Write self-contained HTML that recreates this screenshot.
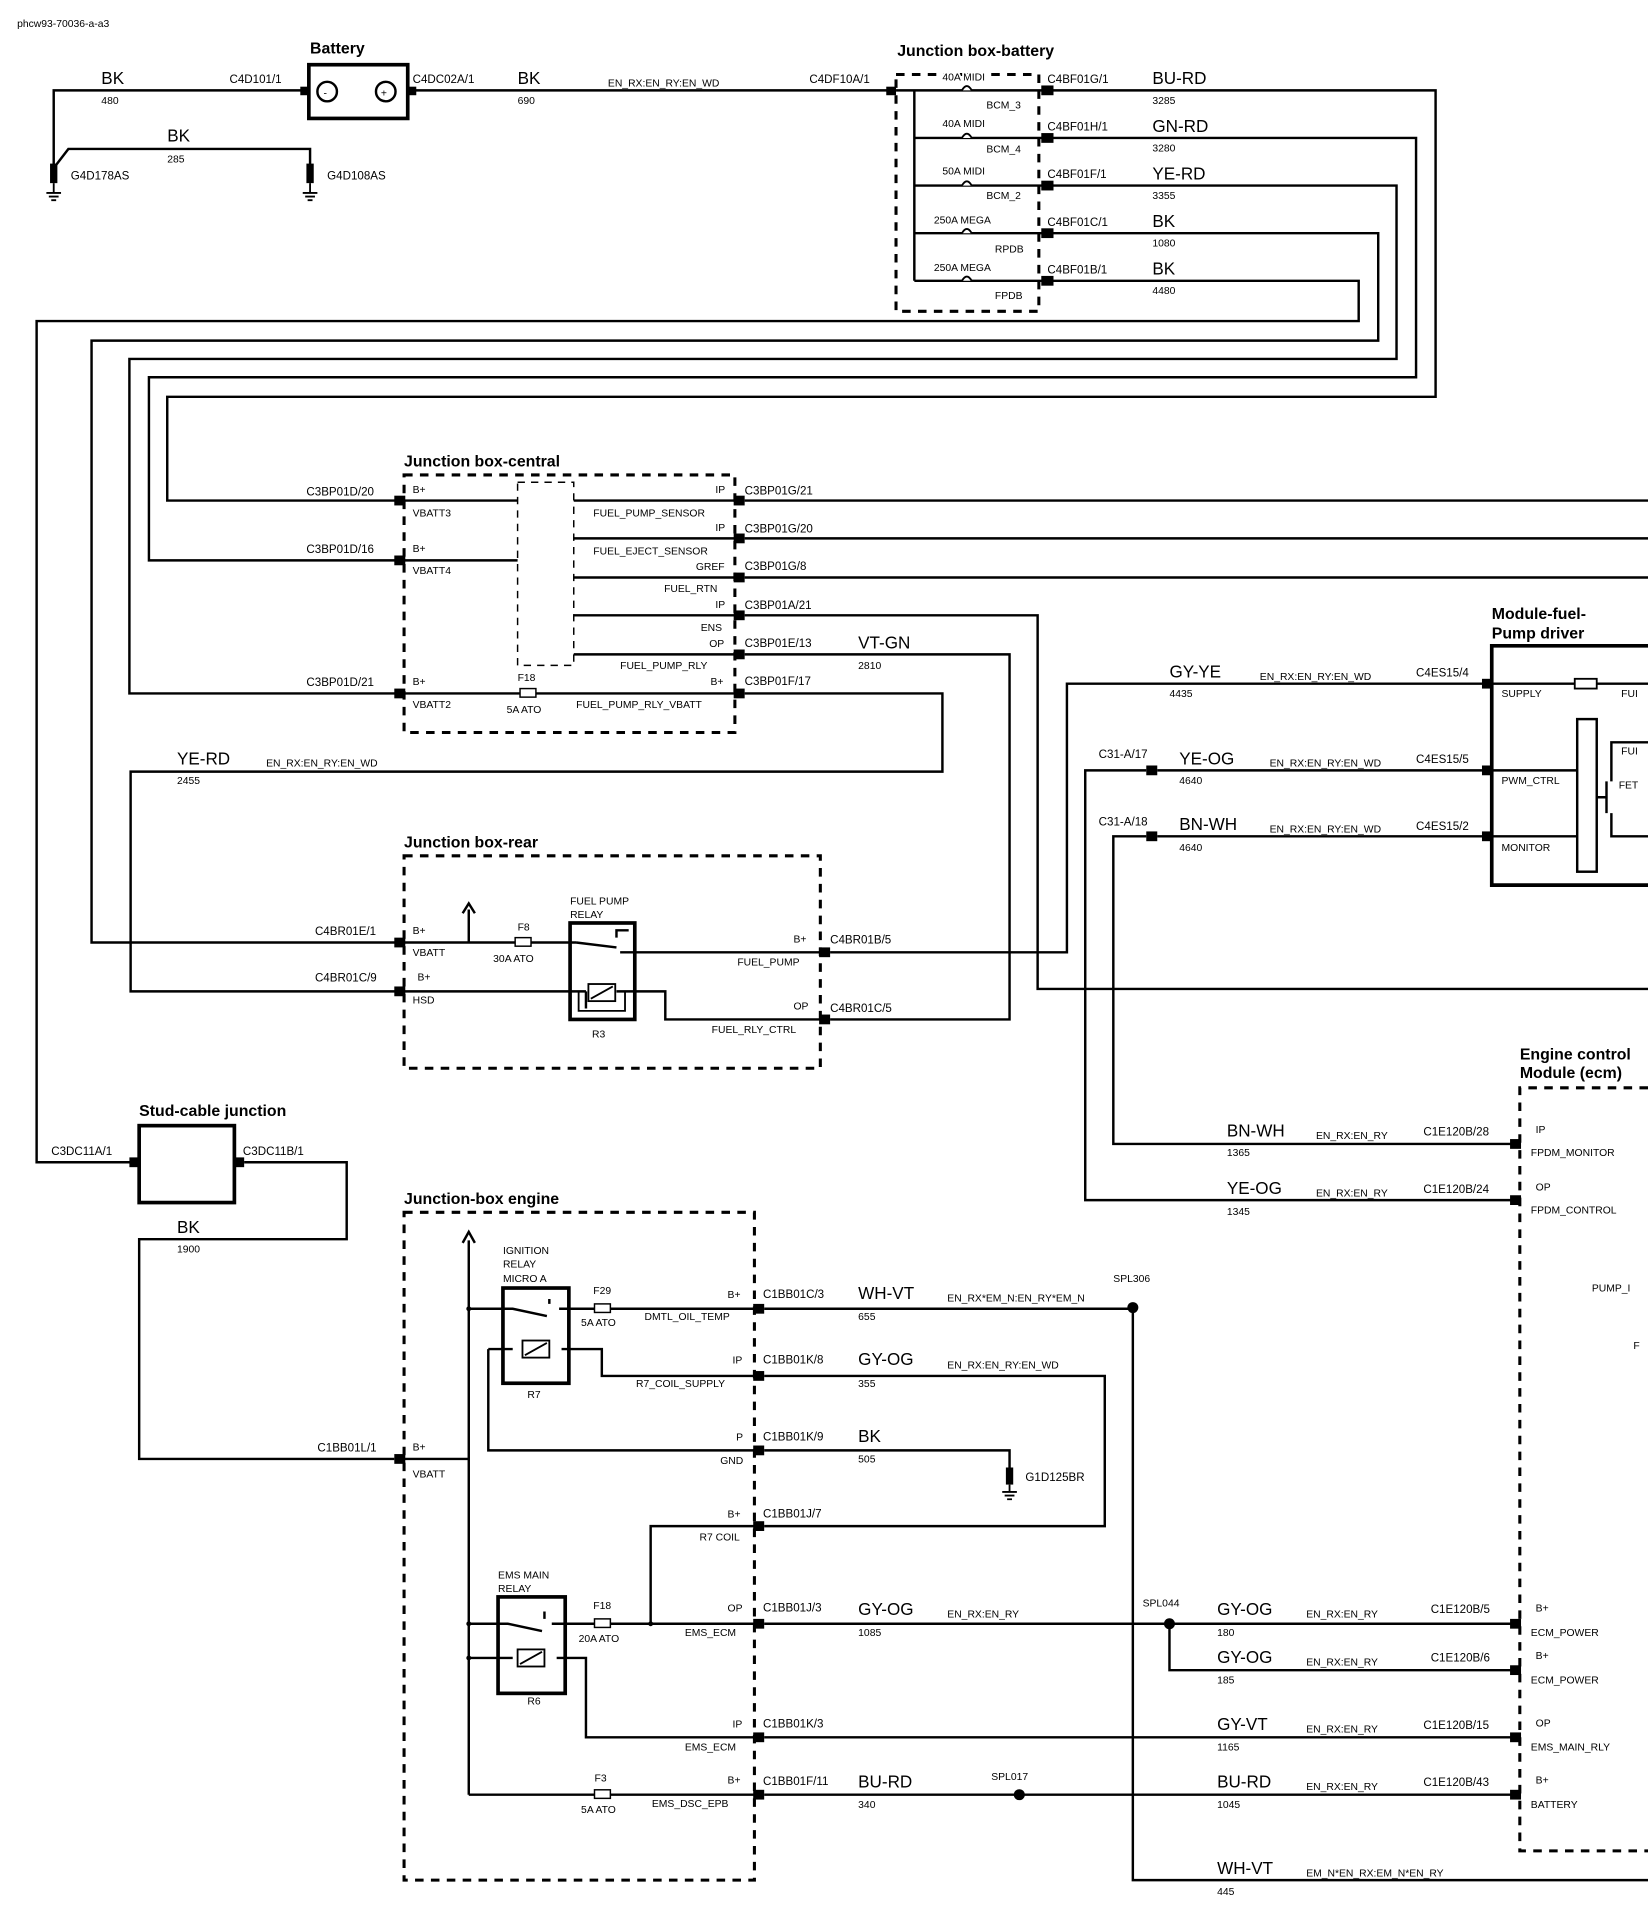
<!DOCTYPE html>
<html><head><meta charset="utf-8"><style>
html,body{margin:0;padding:0;background:#fff;}
svg{display:block;}
text{font-family:"Liberation Sans",sans-serif;fill:#000;}
.s{font-size:9.5px;}
.n{font-size:8.5px;}
.c{font-size:14px;}
.t{font-size:13px;font-weight:bold;}
.w{stroke:#000;stroke-width:2;fill:none;}
.d{stroke:#000;stroke-width:2.5;fill:none;stroke-dasharray:7,6;}
.b{stroke:#000;stroke-width:3;fill:none;}
.k{fill:#000;}
</style></head><body>
<svg width="1648" height="1918" viewBox="0 0 1350 1571" preserveAspectRatio="none" xmlns="http://www.w3.org/2000/svg">
<text x="14" y="22" class="n">phcw93-70036-a-a3</text>
<!-- Battery -->
<text x="254" y="44" class="t">Battery</text>
<rect x="253" y="53" width="81" height="44" class="b"/>
<circle cx="268" cy="75" r="8" class="w"/><text x="265" y="79" class="n">-</text>
<circle cx="316" cy="75" r="8" class="w"/><text x="312" y="79" class="n">+</text>
<path class="w" d="M44,140 V74 H253 M334,74 H730"/>
<rect x="246" y="71" width="7" height="7" class="k"/><rect x="334" y="71" width="7" height="7" class="k"/>
<text x="188" y="68" class="s">C4D101/1</text>
<text x="83" y="69" class="c">BK</text><text x="83" y="85" class="n">480</text>
<path class="w" d="M46,135 L56,122 H254 V138"/>
<text x="137" y="116" class="c">BK</text><text x="137" y="133" class="n">285</text>
<rect x="41" y="134" width="6" height="16" class="k"/><path class="w" d="M44,150 V158 M38,158 H50 M40,161 H48 M42,164 H46" style="stroke-width:1.5"/>
<rect x="251" y="134" width="6" height="16" class="k"/><path class="w" d="M254,150 V158 M248,158 H260 M250,161 H258 M252,164 H256" style="stroke-width:1.5"/>
<text x="58" y="147" class="s">G4D178AS</text><text x="268" y="147" class="s">G4D108AS</text>
<text x="338" y="68" class="s">C4DC02A/1</text>
<text x="424" y="69" class="c">BK</text><text x="424" y="85" class="n">690</text>
<text x="498" y="71" class="n">EN_RX:EN_RY:EN_WD</text>
<text x="663" y="68" class="s">C4DF10A/1</text>
<rect x="726" y="71" width="8" height="7" class="k"/>
<!-- JB battery -->
<text x="735" y="46" class="t">Junction box-battery</text>
<rect x="734" y="61" width="117" height="194" class="d"/>
<path class="w" d="M734,74 H856 M749,74 V230"/>
<g class="w">
<path d="M749,113 H856 M749,152 H856 M749,191 H856 M749,230 H856"/>
</g>
<g fill="#fff" stroke="#000" stroke-width="1.5">
<path d="M788,74 q4,-7 8,0"/><path d="M788,113 q4,-7 8,0"/><path d="M788,152 q4,-7 8,0"/><path d="M788,191 q4,-7 8,0"/><path d="M788,230 q4,-7 8,0"/>
</g>
<text x="772" y="66" class="n" style="paint-order:stroke;stroke:#fff;stroke-width:3">40A MIDI</text><text x="808" y="89" class="n">BCM_3</text>
<text x="772" y="104" class="n">40A MIDI</text><text x="808" y="125" class="n">BCM_4</text>
<text x="772" y="143" class="n">50A MIDI</text><text x="808" y="163" class="n">BCM_2</text>
<text x="765" y="183" class="n">250A MEGA</text><text x="815" y="207" class="n">RPDB</text>
<text x="765" y="222" class="n">250A MEGA</text><text x="815" y="245" class="n">FPDB</text>
<g class="k"><rect x="853" y="70" width="10" height="8"/><rect x="853" y="109" width="10" height="8"/><rect x="853" y="148" width="10" height="8"/><rect x="853" y="187" width="10" height="8"/><rect x="853" y="226" width="10" height="8"/></g>
<text x="858" y="68" class="s">C4BF01G/1</text><text x="944" y="69" class="c">BU-RD</text><text x="944" y="85" class="n">3285</text>
<text x="858" y="107" class="s">C4BF01H/1</text><text x="944" y="108" class="c">GN-RD</text><text x="944" y="124" class="n">3280</text>
<text x="858" y="146" class="s">C4BF01F/1</text><text x="944" y="147" class="c">YE-RD</text><text x="944" y="163" class="n">3355</text>
<text x="858" y="185" class="s">C4BF01C/1</text><text x="944" y="186" class="c">BK</text><text x="944" y="202" class="n">1080</text>
<text x="858" y="224" class="s">C4BF01B/1</text><text x="944" y="225" class="c">BK</text><text x="944" y="241" class="n">4480</text>
<path class="w" d="M863,74 H1176 V325 H137 V410 H331"/>
<path class="w" d="M863,113 H1160 V309 H122 V459 H331"/>
<path class="w" d="M863,152 H1144 V294 H106 V568 H331"/>
<path class="w" d="M863,191 H1129 V279 H75 V772 H331"/>
<path class="w" d="M863,230 H1113 V263 H30 V952 H107"/>
<!-- JB central -->
<text x="331" y="382" class="t">Junction box-central</text>
<rect x="331" y="389" width="271" height="211" class="d"/>
<rect x="424" y="395" width="46" height="150" class="d" style="stroke-width:1.2;stroke-dasharray:6,5"/>
<path class="w" d="M331,410 H424 M331,459 H424 M331,568 H602 M470,410 H602 M470,441 H602 M470,473 H602 M470,504 H602 M470,536 H602"/>
<rect x="426" y="564" width="13" height="7" fill="#fff" stroke="#000" stroke-width="1.2"/>
<text x="424" y="558" class="n">F18</text><text x="415" y="584" class="n">5A ATO</text>
<g class="k"><rect x="323" y="406" width="9" height="8"/><rect x="323" y="455" width="9" height="8"/><rect x="323" y="564" width="9" height="8"/>
<rect x="601" y="406" width="9" height="8"/><rect x="601" y="437" width="9" height="8"/><rect x="601" y="469" width="9" height="8"/><rect x="601" y="500" width="9" height="8"/><rect x="601" y="532" width="9" height="8"/><rect x="601" y="564" width="9" height="8"/></g>
<text x="251" y="406" class="s">C3BP01D/20</text><text x="338" y="404" class="n">B+</text><text x="338" y="423" class="n">VBATT3</text>
<text x="251" y="453" class="s">C3BP01D/16</text><text x="338" y="452" class="n">B+</text><text x="338" y="470" class="n">VBATT4</text>
<text x="251" y="562" class="s">C3BP01D/21</text><text x="338" y="561" class="n">B+</text><text x="338" y="580" class="n">VBATT2</text>
<text x="586" y="404" class="n">IP</text><text x="486" y="423" class="n">FUEL_PUMP_SENSOR</text>
<text x="586" y="435" class="n">IP</text><text x="486" y="454" class="n">FUEL_EJECT_SENSOR</text>
<text x="570" y="467" class="n">GREF</text><text x="544" y="485" class="n">FUEL_RTN</text>
<text x="586" y="498" class="n">IP</text><text x="574" y="517" class="n">ENS</text>
<text x="581" y="530" class="n">OP</text><text x="508" y="548" class="n">FUEL_PUMP_RLY</text>
<text x="582" y="561" class="n">B+</text><text x="472" y="580" class="n">FUEL_PUMP_RLY_VBATT</text>
<text x="610" y="405" class="s">C3BP01G/21</text><text x="610" y="436" class="s">C3BP01G/20</text><text x="610" y="467" class="s">C3BP01G/8</text>
<text x="610" y="499" class="s">C3BP01A/21</text><text x="610" y="530" class="s">C3BP01E/13</text><text x="610" y="561" class="s">C3BP01F/17</text>
<path class="w" d="M610,410 H1350 M610,441 H1350 M610,473 H1350 M610,504 H850 V810 H1350 M610,536 H827 V835 H680 M610,568 H772 V632 H107 V812 H331"/>
<text x="703" y="531" class="c">VT-GN</text><text x="703" y="548" class="n">2810</text>
<text x="145" y="626" class="c">YE-RD</text><text x="145" y="642" class="n">2455</text><text x="218" y="628" class="n">EN_RX:EN_RY:EN_WD</text>
<!-- fuel pump driver -->
<text x="1222" y="507" class="t">Module-fuel-</text><text x="1222" y="523" class="t">Pump driver</text>
<path class="b" d="M1350,529 H1222 V725 H1350"/>
<path class="w" d="M1222,560 H1350 M1222,631 H1292 M1222,685 H1292 M1308,653 H1316 M1316,640 V666 M1320,640 V608 H1350 M1320,666 V685 H1350"/>
<rect x="1290" y="556" width="18" height="8" fill="#fff" stroke="#000" stroke-width="1.5"/>
<rect x="1292" y="589" width="16" height="125" fill="#fff" stroke="#000" stroke-width="2"/>
<text x="1230" y="571" class="n">SUPPLY</text><text x="1328" y="571" class="n">FUI</text>
<text x="1230" y="642" class="n">PWM_CTRL</text><text x="1230" y="697" class="n">MONITOR</text>
<text x="1328" y="618" class="n">FUI</text><text x="1326" y="646" class="n">FET</text>
<g class="k"><rect x="1214" y="556" width="9" height="8"/><rect x="1214" y="627" width="9" height="8"/><rect x="1214" y="681" width="9" height="8"/>
<rect x="939" y="627" width="9" height="8"/><rect x="939" y="681" width="9" height="8"/></g>
<path class="w" d="M1214,560 H874 V780 H680 M948,631 H1214 M939,631 H889 V983 H1240 M948,685 H1214 M939,685 H912 V937 H1240"/>
<text x="1160" y="554" class="s">C4ES15/4</text><text x="958" y="555" class="c">GY-YE</text><text x="958" y="571" class="n">4435</text><text x="1032" y="557" class="n">EN_RX:EN_RY:EN_WD</text>
<text x="900" y="621" class="s">C31-A/17</text><text x="966" y="626" class="c">YE-OG</text><text x="966" y="642" class="n">4640</text><text x="1040" y="628" class="n">EN_RX:EN_RY:EN_WD</text><text x="1160" y="625" class="s">C4ES15/5</text>
<text x="900" y="676" class="s">C31-A/18</text><text x="966" y="680" class="c">BN-WH</text><text x="966" y="697" class="n">4640</text><text x="1040" y="682" class="n">EN_RX:EN_RY:EN_WD</text><text x="1160" y="680" class="s">C4ES15/2</text>
<!-- JB rear -->
<text x="331" y="694" class="t">Junction box-rear</text>
<rect x="331" y="701" width="341" height="174" class="d"/>
<path class="w" d="M331,772 H472 M384,772 V745 M331,812 H480 M472,772 L505,776 M505,768 V762 H515 M508,780 H672 M480,812 V826 M505,812 H545 V835 H672"/>
<path d="M379,748 L384,740 L389,748" class="w"/>
<rect x="467" y="756" width="53" height="79" class="b"/>
<rect x="482" y="806" width="22" height="14" fill="#fff" stroke="#000" stroke-width="1.5"/><path d="M484,818 L502,808" stroke="#000" stroke-width="1.5"/>
<path class="w" d="M474,812 V828 H512 V812" style="stroke-width:1.5"/>
<rect x="422" y="768" width="13" height="7" fill="#fff" stroke="#000" stroke-width="1.2"/>
<text x="424" y="762" class="n">F8</text><text x="404" y="788" class="n">30A ATO</text>
<text x="467" y="741" class="n">FUEL PUMP</text><text x="467" y="752" class="n">RELAY</text><text x="485" y="850" class="n">R3</text>
<g class="k"><rect x="323" y="768" width="9" height="8"/><rect x="323" y="808" width="9" height="8"/><rect x="671" y="776" width="9" height="8"/><rect x="671" y="831" width="9" height="8"/></g>
<text x="258" y="766" class="s">C4BR01E/1</text><text x="338" y="765" class="n">B+</text><text x="338" y="783" class="n">VBATT</text>
<text x="258" y="804" class="s">C4BR01C/9</text><text x="342" y="803" class="n">B+</text><text x="338" y="822" class="n">HSD</text>
<text x="650" y="772" class="n">B+</text><text x="604" y="791" class="n">FUEL_PUMP</text><text x="680" y="773" class="s">C4BR01B/5</text>
<text x="650" y="827" class="n">OP</text><text x="583" y="846" class="n">FUEL_RLY_CTRL</text><text x="680" y="829" class="s">C4BR01C/5</text>
<!-- stud cable -->
<text x="114" y="914" class="t">Stud-cable junction</text>
<rect x="114" y="922" width="78" height="63" class="b"/>
<g class="k"><rect x="106" y="948" width="8" height="8"/><rect x="192" y="948" width="8" height="8"/></g>
<text x="42" y="946" class="s">C3DC11A/1</text><text x="199" y="946" class="s">C3DC11B/1</text>
<path class="w" d="M200,952 H284 V1015 H114 V1195 H323"/>
<text x="145" y="1010" class="c">BK</text><text x="145" y="1026" class="n">1900</text>
<!-- JB engine -->
<text x="331" y="986" class="t">Junction-box engine</text>
<rect x="331" y="993" width="287" height="547" class="d"/>
<rect x="323" y="1191" width="9" height="8" class="k"/>
<text x="260" y="1189" class="s">C1BB01L/1</text><text x="338" y="1188" class="n">B+</text><text x="338" y="1210" class="n">VBATT</text>
<path class="w" d="M331,1195 H384 M384,1470 V1016"/>
<path d="M379,1018 L384,1009 L389,1018" class="w"/>
<!-- ignition relay -->
<text x="412" y="1027" class="n">IGNITION</text><text x="412" y="1038" class="n">RELAY</text><text x="412" y="1050" class="n">MICRO A</text>
<rect x="412" y="1055" width="54" height="78" class="b"/>
<path class="w" d="M384,1072 H420 L448,1078 M450,1068 V1064 M458,1072 H618 M400,1105 H420 M460,1105 H493 V1127 H618 M400,1105 V1188 H618"/>
<rect x="428" y="1098" width="22" height="14" fill="#fff" stroke="#000" stroke-width="1.5"/><path d="M430,1110 L448,1100" stroke="#000" stroke-width="1.5"/>
<rect x="487" y="1068" width="13" height="7" fill="#fff" stroke="#000" stroke-width="1.2"/>
<text x="486" y="1060" class="n">F29</text><text x="476" y="1086" class="n">5A ATO</text><text x="432" y="1145" class="n">R7</text>
<!-- EMS relay -->
<text x="408" y="1293" class="n">EMS MAIN</text><text x="408" y="1304" class="n">RELAY</text>
<rect x="408" y="1308" width="55" height="79" class="b"/>
<path class="w" d="M384,1330 H416 L444,1336 M446,1326 V1320 M452,1330 H618 M384,1358 H420 M456,1358 H480 V1423 H618 M533,1330 V1250 H618"/>
<rect x="424" y="1351" width="22" height="14" fill="#fff" stroke="#000" stroke-width="1.5"/><path d="M426,1363 L444,1353" stroke="#000" stroke-width="1.5"/>
<rect x="487" y="1326" width="13" height="7" fill="#fff" stroke="#000" stroke-width="1.2"/>
<circle cx="533" cy="1330" r="2" class="k"/><circle cx="384" cy="1330" r="2" class="k"/><circle cx="384" cy="1358" r="2" class="k"/><circle cx="384" cy="1072" r="2" class="k"/>
<text x="486" y="1318" class="n">F18</text><text x="474" y="1345" class="n">20A ATO</text><text x="432" y="1396" class="n">R6</text>
<path class="w" d="M384,1470 H618"/>
<rect x="487" y="1466" width="13" height="7" fill="#fff" stroke="#000" stroke-width="1.2"/>
<text x="487" y="1459" class="n">F3</text><text x="476" y="1485" class="n">5A ATO</text>
<g class="k"><rect x="617" y="1068" width="9" height="8"/><rect x="617" y="1123" width="9" height="8"/><rect x="617" y="1184" width="9" height="8"/><rect x="617" y="1246" width="9" height="8"/><rect x="617" y="1326" width="9" height="8"/><rect x="617" y="1419" width="9" height="8"/><rect x="617" y="1466" width="9" height="8"/></g>
<text x="596" y="1063" class="n">B+</text><text x="528" y="1081" class="n">DMTL_OIL_TEMP</text><text x="625" y="1063" class="s">C1BB01C/3</text>
<text x="600" y="1117" class="n">IP</text><text x="521" y="1136" class="n">R7_COIL_SUPPLY</text><text x="625" y="1117" class="s">C1BB01K/8</text>
<text x="603" y="1180" class="n">P</text><text x="590" y="1199" class="n">GND</text><text x="625" y="1180" class="s">C1BB01K/9</text>
<text x="596" y="1243" class="n">B+</text><text x="573" y="1262" class="n">R7 COIL</text><text x="625" y="1243" class="s">C1BB01J/7</text>
<text x="596" y="1320" class="n">OP</text><text x="561" y="1340" class="n">EMS_ECM</text><text x="625" y="1320" class="s">C1BB01J/3</text>
<text x="600" y="1415" class="n">IP</text><text x="561" y="1434" class="n">EMS_ECM</text><text x="625" y="1415" class="s">C1BB01K/3</text>
<text x="596" y="1461" class="n">B+</text><text x="534" y="1480" class="n">EMS_DSC_EPB</text><text x="625" y="1462" class="s">C1BB01F/11</text>
<path class="w" d="M626,1072 H928 V1540 H1350 M626,1127 H905 V1250 H626 M626,1188 H827 V1205 M626,1330 H1240 M958,1330 V1368 H1240 M626,1423 H1240 M626,1470 H1240"/>
<circle cx="928" cy="1071" r="4.5" class="k"/><circle cx="958" cy="1330" r="4.5" class="k"/><circle cx="835" cy="1470" r="4.5" class="k"/>
<rect x="824" y="1202" width="6" height="14" class="k"/><path class="w" d="M827,1216 V1222 M821,1222 H833 M823,1225 H831 M825,1228 H829" style="stroke-width:1.5"/>
<text x="840" y="1213" class="s">G1D125BR</text>
<text x="912" y="1050" class="n">SPL306</text><text x="936" y="1316" class="n">SPL044</text><text x="812" y="1458" class="n">SPL017</text>
<text x="703" y="1064" class="c">WH-VT</text><text x="703" y="1081" class="n">655</text><text x="776" y="1066" class="n">EN_RX*EM_N:EN_RY*EM_N</text>
<text x="703" y="1118" class="c">GY-OG</text><text x="703" y="1136" class="n">355</text><text x="776" y="1121" class="n">EN_RX:EN_RY:EN_WD</text>
<text x="703" y="1181" class="c">BK</text><text x="703" y="1198" class="n">505</text>
<text x="703" y="1323" class="c">GY-OG</text><text x="703" y="1340" class="n">1085</text><text x="776" y="1325" class="n">EN_RX:EN_RY</text>
<text x="703" y="1464" class="c">BU-RD</text><text x="703" y="1481" class="n">340</text>
<text x="997" y="1323" class="c">GY-OG</text><text x="997" y="1340" class="n">180</text><text x="1070" y="1325" class="n">EN_RX:EN_RY</text><text x="1172" y="1321" class="s">C1E120B/5</text>
<text x="997" y="1362" class="c">GY-OG</text><text x="997" y="1379" class="n">185</text><text x="1070" y="1364" class="n">EN_RX:EN_RY</text><text x="1172" y="1361" class="s">C1E120B/6</text>
<text x="997" y="1417" class="c">GY-VT</text><text x="997" y="1434" class="n">1165</text><text x="1070" y="1419" class="n">EN_RX:EN_RY</text><text x="1166" y="1416" class="s">C1E120B/15</text>
<text x="997" y="1464" class="c">BU-RD</text><text x="997" y="1481" class="n">1045</text><text x="1070" y="1466" class="n">EN_RX:EN_RY</text><text x="1166" y="1463" class="s">C1E120B/43</text>
<text x="997" y="1535" class="c">WH-VT</text><text x="997" y="1552" class="n">445</text><text x="1070" y="1537" class="n">EM_N*EN_RX:EM_N*EN_RY</text>
<!-- ECM -->
<text x="1245" y="868" class="t">Engine control</text><text x="1245" y="883" class="t">Module (ecm)</text>
<path class="d" d="M1350,891 H1245 V1516 H1350"/>
<g class="k"><rect x="1237" y="933" width="9" height="8"/><rect x="1237" y="979" width="9" height="8"/><rect x="1237" y="1326" width="9" height="8"/><rect x="1237" y="1364" width="9" height="8"/><rect x="1237" y="1419" width="9" height="8"/><rect x="1237" y="1466" width="9" height="8"/></g>
<text x="1005" y="931" class="c">BN-WH</text><text x="1005" y="947" class="n">1365</text><text x="1078" y="933" class="n">EN_RX:EN_RY</text><text x="1166" y="930" class="s">C1E120B/28</text>
<text x="1005" y="978" class="c">YE-OG</text><text x="1005" y="995" class="n">1345</text><text x="1078" y="980" class="n">EN_RX:EN_RY</text><text x="1166" y="977" class="s">C1E120B/24</text>
<text x="1258" y="928" class="n">IP</text><text x="1254" y="947" class="n">FPDM_MONITOR</text>
<text x="1258" y="975" class="n">OP</text><text x="1254" y="994" class="n">FPDM_CONTROL</text>
<text x="1304" y="1058" class="n">PUMP_I</text><text x="1338" y="1105" class="n">F</text>
<text x="1258" y="1320" class="n">B+</text><text x="1254" y="1340" class="n">ECM_POWER</text>
<text x="1258" y="1359" class="n">B+</text><text x="1254" y="1379" class="n">ECM_POWER</text>
<text x="1258" y="1414" class="n">OP</text><text x="1254" y="1434" class="n">EMS_MAIN_RLY</text>
<text x="1258" y="1461" class="n">B+</text><text x="1254" y="1481" class="n">BATTERY</text>
</svg>
</body></html>
